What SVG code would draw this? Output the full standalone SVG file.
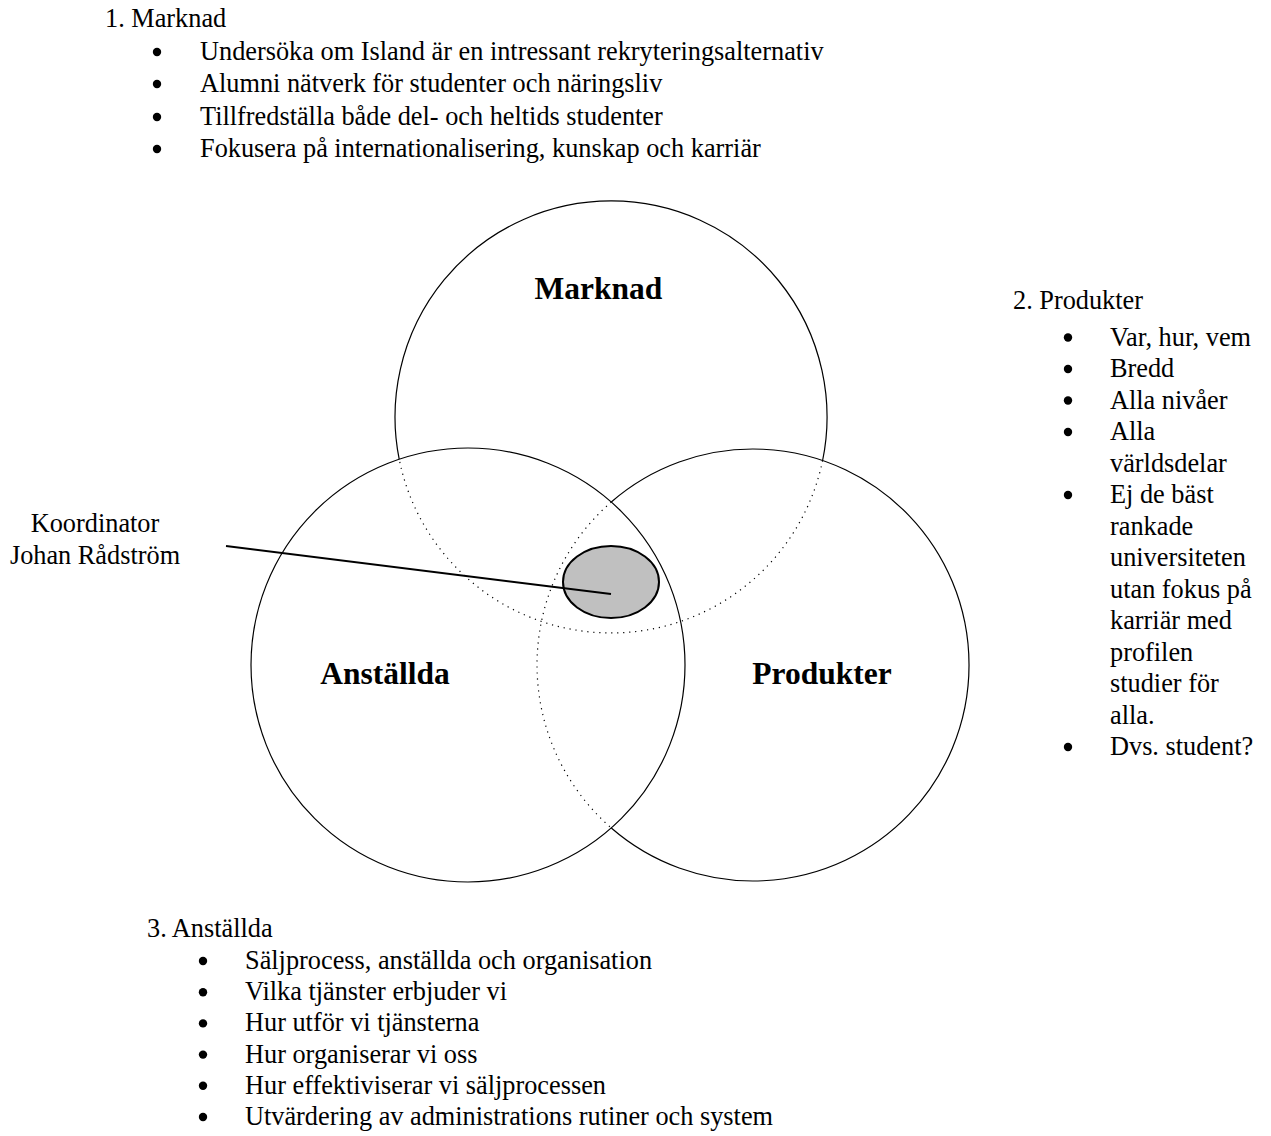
<svg xmlns="http://www.w3.org/2000/svg" width="1271" height="1136" viewBox="0 0 1271 1136">
  <style>
    .txt { font-family: "Liberation Serif", "Times New Roman", serif; font-size: 26.3px; fill: #000; }
    .lbl { font-family: "Liberation Serif", "Times New Roman", serif; font-size: 31.5px; font-weight: bold; fill: #000; text-anchor: middle; }
    .solid { fill: none; stroke: #000; stroke-width: 1.2; }
    .dot { fill: none; stroke: #000; stroke-width: 1.2; stroke-dasharray: 1.2 4.8; }
    .bullet { fill: #000; }
  </style>
  <rect width="1271" height="1136" fill="#fff"/>

  <!-- Venn circles: solid outer arcs, dotted where a circle runs inside another -->
  <g id="circle-marknad">
    <path class="solid" d="M 399.2 459.2 A 216 216 0 1 1 822.6 460.5"/>
    <path class="dot" d="M 822.6 460.5 A 216 216 0 0 1 399.2 459.2"/>
    <text class="lbl" x="598.5" y="299">Marknad</text>
  </g>
  <g id="circle-anstallda">
    <circle class="solid" cx="468" cy="665" r="217"/>
    <text class="lbl" x="385" y="684">Anställda</text>
  </g>
  <g id="circle-produkter">
    <path class="solid" d="M 611.3 502 A 216 216 0 1 1 611.3 828"/>
    <path class="dot" d="M 611.3 502 A 216 216 0 0 0 611.3 828"/>
    <text class="lbl" x="822" y="684">Produkter</text>
  </g>

  <!-- coordinator at the centre of the three areas -->
  <g id="koordinator">
    <ellipse cx="611" cy="582" rx="48" ry="36" fill="#c0c0c0" stroke="#000" stroke-width="2"/>
    <text class="txt" x="95" y="532" text-anchor="middle">Koordinator</text>
    <text class="txt" x="95" y="564" text-anchor="middle">Johan Rådström</text>
  </g>

  <g id="connectors">
    <line x1="226" y1="546" x2="611" y2="594" stroke="#000" stroke-width="2"/>
  </g>

  <!-- 1. Marknad -->
  <g id="list-marknad">
    <text class="txt" x="105" y="27">1. Marknad</text>
    <circle class="bullet" cx="157" cy="52" r="4.2"/>
    <text class="txt" x="200" y="60">Undersöka om Island är en intressant rekryteringsalternativ</text>
    <circle class="bullet" cx="157" cy="84" r="4.2"/>
    <text class="txt" x="200" y="92">Alumni nätverk för studenter och näringsliv</text>
    <circle class="bullet" cx="157" cy="117" r="4.2"/>
    <text class="txt" x="200" y="125">Tillfredställa både del- och heltids studenter</text>
    <circle class="bullet" cx="157" cy="149" r="4.2"/>
    <text class="txt" x="200" y="157">Fokusera på internationalisering, kunskap och karriär</text>
  </g>

  <!-- 2. Produkter -->
  <g id="list-produkter">
    <text class="txt" x="1013" y="309">2. Produkter</text>
    <circle class="bullet" cx="1068" cy="337.5" r="4.2"/>
    <text class="txt" x="1110" y="345.5">Var, hur, vem</text>
    <circle class="bullet" cx="1068" cy="369" r="4.2"/>
    <text class="txt" x="1110" y="377">Bredd</text>
    <circle class="bullet" cx="1068" cy="400.5" r="4.2"/>
    <text class="txt" x="1110" y="408.5">Alla nivåer</text>
    <circle class="bullet" cx="1068" cy="432" r="4.2"/>
    <text class="txt" x="1110" y="440">Alla</text>
    <text class="txt" x="1110" y="471.5">världsdelar</text>
    <circle class="bullet" cx="1068" cy="495" r="4.2"/>
    <text class="txt" x="1110" y="503">Ej de bäst</text>
    <text class="txt" x="1110" y="534.5">rankade</text>
    <text class="txt" x="1110" y="566">universiteten</text>
    <text class="txt" x="1110" y="597.5">utan fokus på</text>
    <text class="txt" x="1110" y="629">karriär med</text>
    <text class="txt" x="1110" y="660.5">profilen</text>
    <text class="txt" x="1110" y="692">studier för</text>
    <text class="txt" x="1110" y="723.5">alla.</text>
    <circle class="bullet" cx="1068" cy="747" r="4.2"/>
    <text class="txt" x="1110" y="755">Dvs. student?</text>
  </g>

  <!-- 3. Anställda -->
  <g id="list-anstallda">
    <text class="txt" x="147" y="937">3. Anställda</text>
    <circle class="bullet" cx="203" cy="961" r="4.2"/>
    <text class="txt" x="245" y="969">Säljprocess, anställda och organisation</text>
    <circle class="bullet" cx="203" cy="992.2" r="4.2"/>
    <text class="txt" x="245" y="1000.2">Vilka tjänster erbjuder vi</text>
    <circle class="bullet" cx="203" cy="1023.4" r="4.2"/>
    <text class="txt" x="245" y="1031.4">Hur utför vi tjänsterna</text>
    <circle class="bullet" cx="203" cy="1054.6" r="4.2"/>
    <text class="txt" x="245" y="1062.6">Hur organiserar vi oss</text>
    <circle class="bullet" cx="203" cy="1085.8" r="4.2"/>
    <text class="txt" x="245" y="1093.8">Hur effektiviserar vi säljprocessen</text>
    <circle class="bullet" cx="203" cy="1117" r="4.2"/>
    <text class="txt" x="245" y="1125">Utvärdering av administrations rutiner och system</text>
  </g>
</svg>
